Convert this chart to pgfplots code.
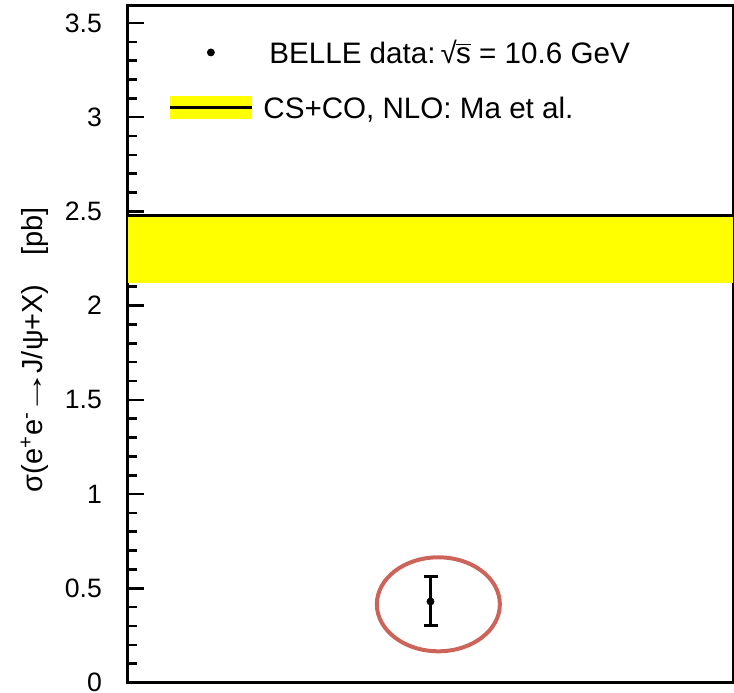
\documentclass[border=0pt]{standalone}
\usepackage{fontspec}
\setmainfont{Liberation Sans}
\usepackage{graphicx}
\usepackage{pgfplots}
\pgfplotsset{compat=1.18}

\definecolor{bandyellow}{RGB}{255,255,0}
\definecolor{circlered}{RGB}{205,100,90}

\begin{document}
\begin{tikzpicture}
\useasboundingbox (0,0) rectangle (367pt,346pt);
\begin{axis}[
  at={(64pt,4.75pt)}, anchor=south west,
  scale only axis,
  width=302.5pt, height=338.25pt,
  xmin=0, xmax=1,
  ymin=0, ymax=3.59,
  xtick=\empty,
  ytick={0,0.5,1,1.5,2,2.5,3,3.5},
  minor y tick num=4,
  ytick pos=left,
  tick align=inside,
  major tick length=8pt,
  minor tick length=4.5pt,
  every tick/.style={line width=1.3pt, black},
  axis line style={line width=1.5pt},
  /pgf/number format/assume math mode=true,
  yticklabel style={font=\fontsize{13.3}{14}\selectfont, xshift=-9.5pt},
  ylabel={\fontsize{14.5}{16}\selectfont σ(e\textsuperscript{+}e\textsuperscript{-}\kern-2pt\scalebox{1.6}[1]{→}\kern-2pt J/ψ+X)\quad[pb]},
  ylabel style={at={(axis description cs:-0.154,0.492)}, anchor=center},
  legend cell align=left,
  legend style={
    at={(0.0661,0.9636)}, anchor=north west,
    draw=none, fill=none,
    inner xsep=0pt, inner ysep=0pt,
    column sep=3pt, row sep=6.35pt,
    font=\fontsize{14.8}{16}\selectfont,
    nodes={inner sep=2pt, text height=14pt, text depth=3.4pt},
  },
]
% BELLE measurement with its total uncertainty
\addplot[
  only marks, mark=*, mark size=1.75pt, black,
  legend image code/.code={\fill[black] (20.5pt,0) circle (1.75pt);},
  error bars/.cd, y dir=both, y explicit,
  error bar style={line width=1.5pt},
  error mark options={rotate=90, mark size=3.5pt, line width=1.5pt},
] coordinates {(0.5,0.43) +- (0,0.13)};
\addlegendentry{\hspace*{3pt}BELLE data:\,√\kern-0.3pt$\overline{\mbox{s}}$ = 10.6 GeV}

% NLO prediction band (CS+CO)
\addplot[
  fill=bandyellow, draw=none,
  legend image code/.code={
    \fill[bandyellow] (0,-5.75pt) rectangle (41pt,5.75pt);
    \draw[black, line width=1.5pt] (0,0) -- (41pt,0);
  },
] coordinates {(0,2.12) (1,2.12) (1,2.48) (0,2.48)} -- cycle;
\addlegendentry{CS+CO, NLO: Ma et al.}

\addplot[black, line width=1.5pt, forget plot] coordinates {(0,2.48) (1,2.48)};

% highlight around the measurement
\draw[circlered, line width=2pt] (axis cs:0.513,0.415) ellipse [x radius=30.75pt, y radius=23.5pt];
\end{axis}
\end{tikzpicture}
\end{document}
